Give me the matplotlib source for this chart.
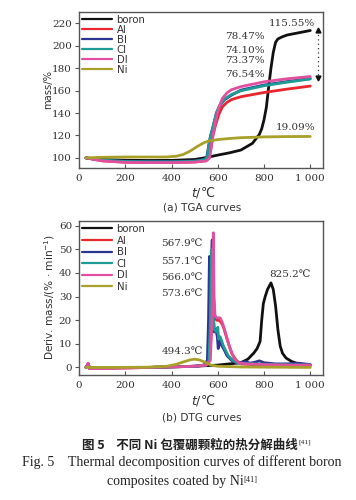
import matplotlib
matplotlib.use("Agg")
import matplotlib.pyplot as plt

# ---------------- data ----------------
series_names = ["boron", "Al", "Bl", "Cl", "Dl", "Ni"]
colors = ["#111111", "#e8262e", "#2c3590", "#1f9a94", "#e0509e", "#a8a02a"]

x_ticks = [0, 200, 400, 600, 800, 1000]
x_tick_labels = ["0", "200", "400", "600", "800", "1 000"]
tga_y_ticks = [100, 120, 140, 160, 180, 200, 220]
dtg_y_ticks = [0, 10, 20, 30, 40, 50, 60]

# TGA (mass %)
tga_T_boron = [30, 100, 200, 300, 400, 500, 550, 600, 650, 700, 750, 780, 790, 800, 810, 820, 830, 840, 850, 860, 880, 900, 950, 1000]
tga_m_boron = [100, 98.6, 97.9, 97.7, 97.8, 98.6, 100.3, 102.5, 104.5, 107, 113, 121, 126, 134, 145, 163, 180, 194, 203, 206, 208, 209.5, 211.5, 213.5]

tga_T_Al = [30, 100, 200, 300, 400, 500, 550, 562, 570, 578, 590, 605, 620, 640, 660, 700, 800, 900, 1000]
tga_m_Al = [100, 97.5, 96.2, 96.0, 96.0, 96.4, 97.5, 100, 108, 119, 129, 139, 145.5, 149.5, 152, 154.5, 158.3, 161.3, 164.0]

tga_T_Bl = [30, 100, 200, 300, 400, 500, 540, 552, 560, 568, 580, 594, 610, 630, 660, 700, 800, 900, 1000]
tga_m_Bl = [100, 98.0, 97.0, 96.8, 96.8, 97.2, 98.5, 100, 110, 119, 128, 140, 147, 152, 156, 160.4, 164.9, 168, 170.8]

tga_T_Cl = [30, 100, 200, 300, 400, 500, 545, 555, 562, 570, 582, 596, 612, 632, 660, 700, 800, 900, 1000]
tga_m_Cl = [100, 98.0, 96.8, 96.5, 96.5, 97.0, 98.5, 101, 112, 120, 130, 141, 148, 153, 156.5, 159.8, 164.3, 167.5, 170.3]

tga_T_Dl = [30, 100, 200, 300, 400, 500, 550, 565, 572, 580, 590, 605, 620, 640, 660, 700, 800, 900, 1000]
tga_m_Dl = [100, 97.3, 96.0, 95.8, 95.8, 96.2, 97.3, 100, 110, 121, 132, 145, 153, 158, 160.8, 163.5, 167.8, 170.5, 172.5]

tga_T_Ni = [30, 100, 200, 300, 380, 420, 450, 480, 510, 540, 560, 600, 650, 700, 800, 900, 1000]
tga_m_Ni = [100, 100.5, 100.8, 100.8, 100.8, 101.5, 103, 106, 110, 113.5, 115, 116.3, 117.3, 118, 118.7, 119, 119.1]

# DTG (%/min)
dtg_T_boron = [30, 40, 45, 100, 300, 400, 500, 600, 650, 700, 730, 755, 770, 783, 790, 797, 805, 815, 830, 840, 850, 860, 870, 880, 895, 920, 950, 1000]
dtg_v_boron = [0, 1.5, 0, 0, 0, 0.2, 0.5, 1, 1.5, 2, 3.5, 6, 8, 11, 20, 27, 30, 33, 35.8, 33, 26, 16, 9, 6, 4, 2.5, 1.5, 1]

dtg_T_Al = [30, 40, 45, 60, 100, 200, 300, 400, 500, 550, 565, 572, 576, 579, 582, 586, 595, 605, 615, 625, 640, 660, 680, 700, 750, 800, 900, 1000]
dtg_v_Al = [0, 1.5, -0.5, 0, -0.3, -0.2, 0, 0.3, 0.5, 1, 3, 15, 40, 52, 30, 22, 20, 20, 19, 17, 12, 6, 3, 1.5, 1.2, 1, 1, 0.8]

dtg_T_Bl = [30, 40, 45, 100, 200, 300, 400, 500, 540, 555, 560, 564, 567, 570, 573, 576, 579, 585, 592, 598, 602, 606, 612, 625, 640, 660, 680, 700, 720, 740, 760, 780, 800, 850, 900, 950, 1000]
dtg_v_Bl = [0, 1.5, -0.5, -0.3, 0, 0, 0.3, 0.5, 1, 3, 20, 47, 30, 20, 45, 54, 25, 15, 16, 13, 8, 13, 10, 8, 5, 3, 2, 2, 2.5, 1.8, 2.2, 2.8, 2, 1.5, 1.5, 1.8, 1.2]

dtg_T_Cl = [30, 40, 45, 100, 300, 500, 550, 562, 568, 572, 575, 578, 585, 595, 600, 604, 610, 625, 645, 665, 690, 750, 850, 1000]
dtg_v_Cl = [0, 1.2, -0.3, 0, 0, 0.5, 1, 3, 20, 45, 50, 25, 16, 15, 17, 12, 13, 9, 5, 3, 1.8, 1.5, 1.2, 1]

dtg_T_Dl = [30, 40, 45, 60, 100, 200, 300, 400, 500, 550, 568, 575, 579, 581, 584, 588, 595, 610, 620, 635, 650, 670, 690, 720, 800, 900, 1000]
dtg_v_Dl = [0, 1.8, -0.5, -0.5, -0.5, -0.3, 0, 0.2, 0.5, 1, 3, 20, 45, 57, 30, 22, 21, 21, 19, 14, 9, 4, 2, 1.5, 1.2, 1, 1]

dtg_T_Ni = [30, 100, 300, 380, 420, 450, 480, 500, 520, 545, 570, 600, 700, 1000]
dtg_v_Ni = [0, 0, 0.1, 0.5, 1.3, 2.3, 3.2, 3.5, 3.2, 2.2, 1, 0.5, 0.2, 0]

tga_labels = ["115.55%", "78.47%", "74.10%", "73.37%", "76.54%", "19.09%"]
dtg_labels = ["567.9℃", "557.1℃", "566.0℃", "573.6℃", "825.2℃", "494.3℃"]

# ---------------- plotting ----------------
W, H = 356, 500
fig = plt.figure(figsize=(W / 100, H / 100), dpi=100)

def box(l, t, r, b):
    return [l / W, 1 - b / H, (r - l) / W, (b - t) / H]

ax1 = fig.add_axes(box(79, 12, 323, 168))
ax2 = fig.add_axes(box(79, 221, 323, 375))

num_font = ["DejaVu Serif", "Noto Sans CJK SC"]
sans_font = ["DejaVu Sans"]
spine_col = "#555555"
txt_col = "#333333"

tga = [(tga_T_boron, tga_m_boron), (tga_T_Al, tga_m_Al), (tga_T_Bl, tga_m_Bl),
       (tga_T_Cl, tga_m_Cl), (tga_T_Dl, tga_m_Dl), (tga_T_Ni, tga_m_Ni)]
dtg = [(dtg_T_boron, dtg_v_boron), (dtg_T_Al, dtg_v_Al), (dtg_T_Bl, dtg_v_Bl),
       (dtg_T_Cl, dtg_v_Cl), (dtg_T_Dl, dtg_v_Dl), (dtg_T_Ni, dtg_v_Ni)]

for ax, data, lsp in ((ax1, tga, 0.0), (ax2, dtg, 0.15)):
    for (xs, ys), name, c in zip(data, series_names, colors):
        ax.plot(xs, ys, color=c, lw=2.0, label=name, solid_capstyle="round")
    ax.set_xlim(0, 1055)
    ax.set_xticks(x_ticks)
    ax.set_xticklabels(x_tick_labels)
    for s in ax.spines.values():
        s.set_color(spine_col)
        s.set_linewidth(1.0)
    ax.tick_params(axis="x", direction="in", length=3, color=spine_col, pad=4)
    ax.tick_params(axis="y", direction="out", length=3, color=spine_col, pad=2)
    for lab in ax.get_xticklabels() + ax.get_yticklabels():
        lab.set_fontfamily(num_font)
        lab.set_fontsize(7.5)
        lab.set_color(txt_col)
    leg = ax.legend(loc="upper left", frameon=False, handlelength=3.0,
                    handletextpad=0.4, labelspacing=lsp, borderaxespad=0.15,
                    borderpad=0.15, prop={"family": sans_font, "size": 7.3})
    for lh in leg.get_lines():
        lh.set_linewidth(1.6)
    for t in leg.get_texts():
        t.set_color(txt_col)

ax1.set_ylim(91, 230)
ax1.set_yticks(tga_y_ticks)
ax2.set_ylim(-3.2, 62)
ax2.set_yticks(dtg_y_ticks)

# TGA annotations
ann_kw = dict(fontsize=7.5, family=num_font, color=txt_col, ha="center", va="center")
tga_pos = [(922, 220), (717, 208.4), (717, 195.4), (717, 186.5), (717, 174.7), (935, 127)]
for (x, y), s in zip(tga_pos, tga_labels):
    ax1.text(x, y, s, **ann_kw)
# arrow marker between boron and composites
ax1.plot([1035, 1035], [174, 212], ls=(0, (1, 2.5)), color=txt_col, lw=0.9, clip_on=False)
ax1.plot([1035], [214], marker="^", ms=3.5, color="#111111", clip_on=False)
ax1.plot([1035], [171.5], marker="v", ms=3.5, color="#111111", clip_on=False)

dtg_pos = [(446, 52.3), (446, 44.9), (446, 38.1), (446, 31.1), (913, 39.3), (449, 6.8)]
for (x, y), s in zip(dtg_pos, dtg_labels):
    ax2.text(x, y, s, **ann_kw)

# axis labels
fig.text(48 / W, 1 - 90 / H, "mass/%", rotation=90, ha="center", va="center",
         fontsize=7.2, family=sans_font, color=txt_col)
fig.text(50 / W, 1 - 297 / H, "Deriv. mass/(% · min$^{-1}$)", rotation=90, ha="center",
         va="center", fontsize=7.6, family=sans_font, color=txt_col)
for yy in (193, 400):
    fig.text(203 / W, 1 - yy / H, "$\\it{t}$/℃", ha="center", va="center", fontsize=9,
             family=["DejaVu Sans"], color=txt_col)

fig.text(202 / W, 1 - 208 / H, "(a) TGA curves", ha="center", va="center",
         fontsize=7.6, family=sans_font, color=txt_col)
fig.text(202 / W, 1 - 417 / H, "(b) DTG curves", ha="center", va="center",
         fontsize=7.6, family=sans_font, color=txt_col)

# captions
fig.canvas.draw()
renderer = fig.canvas.get_renderer()

def with_sup(xc, yc, main, sup, fam, size, weight="normal"):
    t = fig.text(xc / W, 1 - yc / H, main, ha="center", va="center", fontsize=size,
                 family=fam, weight=weight, color="#222222")
    bb = t.get_window_extent(renderer)
    sw = fig.text(0, 0, sup, fontsize=size * 0.6, family=["Liberation Serif"], color="#222222")
    sb = sw.get_window_extent(renderer)
    shift = sb.width / 2
    t.set_position(((xc - shift) / W, 1 - yc / H))
    sw.set_position(((bb.x1 - shift + 0.5) / W, (bb.y1 - sb.height * 0.9) / H))

with_sup(196, 445, "图 5    不同 Ni 包覆硼颗粒的热分解曲线", "[41]",
         ["Noto Sans CJK SC"], 9, "bold")
fig.text(182 / W, 1 - 462 / H, "Fig. 5    Thermal decomposition curves of different boron",
         ha="center", va="center", fontsize=10, family=["Liberation Serif"], color="#222222")
with_sup(182, 481, "composites coated by Ni", "[41]", ["Liberation Serif"], 10)

fig.savefig("out.png", dpi=100)
